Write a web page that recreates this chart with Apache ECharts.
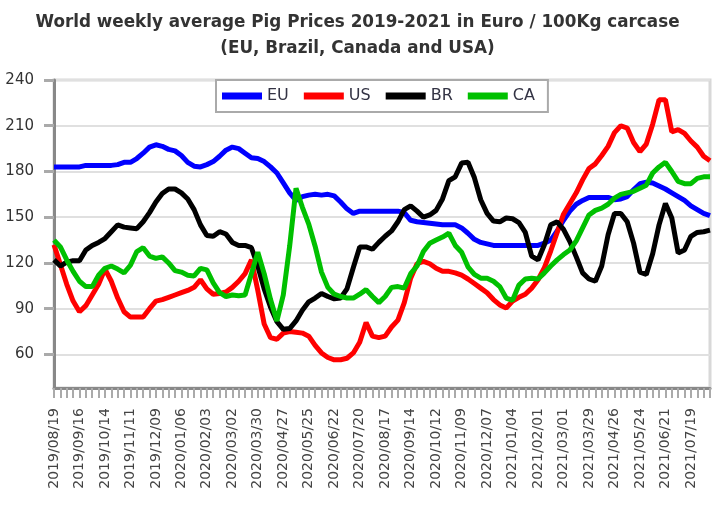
<!DOCTYPE html>
<html>
<head>
<meta charset="utf-8">
<title>World weekly average Pig Prices 2019-2021</title>
<script src="https://cdn.jsdelivr.net/npm/echarts@6/dist/echarts.min.js"></script>
<style>
html, body { margin: 0; padding: 0; background: #fff; }
#main { width: 715px; height: 505px; }
</style>
</head>
<body>
<div id="main"></div>
<script>
// weekly categories, first week and number of weeks
var firstWeek = [2019, 8, 19];
var weekCount = 104;
// y axis labels
var yTicks = [60, 90, 120, 150, 180, 210, 240];

// Euro / 100kg carcase
var euData = [183, 183, 183, 183, 183, 184, 184, 184, 184, 184,
	184.5, 186, 186, 188.5, 192, 196, 197.5, 196.5, 194.5, 193.5,
	190.5, 186, 183.5, 183, 184.5, 186.5, 190, 194, 196, 195,
	192, 189, 188.5, 186.5, 183, 179, 172.5, 166, 161, 163.5,
	164.5, 165, 164.5, 165, 164, 160, 155.5, 152.5, 154, 154,
	154, 154, 154, 154, 154, 153, 148, 147, 146.5, 146,
	145.5, 145, 145, 145, 143, 139.5, 135.5, 133.5, 132.5, 131.5,
	131.5, 131.5, 131.5, 131.5, 131.5, 131.5, 131.5, 133, 135, 141,
	148, 154, 158.5, 161, 163, 163, 163, 163, 161.5, 162,
	163.5, 168, 172, 173, 172.5, 170.5, 168.5, 166, 163.5, 161,
	157.5, 155, 152.5, 151];
var usData = [132, 119, 106, 95, 88, 92, 99, 106, 116, 108,
	97, 88, 84.5, 84.5, 84.5, 90, 95, 96, 97.5, 99,
	100.5, 102, 104, 109, 103, 99.5, 100, 101, 104, 108,
	113, 122, 102, 80, 71, 70, 74, 75, 74.5, 74,
	72, 66, 61, 58, 56.5, 56.5, 57.5, 61, 68, 81,
	72, 71, 72, 78, 82.5, 94, 110, 119.5, 121, 119.5,
	116.5, 114.5, 114.5, 113.5, 112, 109.5, 106.5, 103.5, 100.5, 96,
	92.5, 90.5, 95, 97.5, 99.5, 103.5, 109, 117, 128, 140,
	152, 159, 166, 174.5, 182, 185, 190.5, 196.5, 205.5, 210,
	208.5, 199, 193, 198, 211, 227, 227, 206, 207.5, 205,
	200, 196, 190, 187];
var brData = [122, 118, 120.5, 121.5, 121.5, 128.5, 131.5, 133.5, 136, 140.5,
	145, 143.5, 143, 142.5, 147, 153, 160, 165.5, 168.5, 168.5,
	166, 162, 155, 145, 138, 137.5, 140.5, 139, 133.5, 131.5,
	131.5, 130, 118, 103, 91, 81.5, 76.5, 77, 82, 89,
	94.5, 97, 100, 98, 96.5, 97, 103, 117, 130.5, 130.5,
	129, 133.5, 137.5, 141, 147, 155, 157.5, 154, 150, 151.5,
	154.5, 162, 174, 176.5, 185.5, 186, 176, 161.5, 152.5, 147.5,
	147, 149.5, 149, 146.5, 140, 124.5, 122, 132, 145, 147,
	142, 134, 124, 113.5, 109.5, 108, 118, 138.5, 152.5, 152.5,
	147, 133, 114, 112.5, 126, 145, 159, 149.5, 126.5, 128.5,
	137.5, 140, 140.5, 141.5];
var caData = [135, 130.5, 122, 114.5, 108, 104.5, 104.5, 112, 116.5, 118,
	116, 113.5, 118.5, 127.5, 130, 124.5, 123, 124, 120, 115,
	114, 112, 111.5, 116.5, 115.5, 107, 100.5, 98, 99, 98.5,
	99, 113, 127, 113, 96, 82, 99, 131, 169, 156.5,
	145.5, 131, 114, 104, 99.5, 98, 97, 97, 99.5, 102.5,
	98, 94, 98, 104, 104.5, 103.5, 113, 118, 127.5, 133,
	135, 137, 139.5, 131.5, 127, 117.5, 112.5, 110, 110, 108,
	104.5, 97, 95.5, 105.5, 109.5, 110, 109.5, 113.5, 118, 122,
	125.5, 128.5, 134.5, 143, 151.5, 154.5, 156, 158.5, 162.5, 165,
	166, 167, 169, 171, 179, 183, 186, 180, 173.5, 172,
	172, 175.5, 176.5, 176.5];

var seriesNames = ['EU', 'US', 'BR', 'CA'];
var seriesColors = ['#0000ff', '#ff0000', '#000000', '#00c000'];

// build the yyyy/mm/dd labels, one per week
var pad = function(n) {
	return n < 10 ? '0' + n : '' + n;
};
var weeks = [];
var d = new Date(Date.UTC(firstWeek[0], firstWeek[1] - 1, firstWeek[2]));
for (var i = 0; i < weekCount; i++) {
	weeks.push(d.getUTCFullYear() + '/' + pad(d.getUTCMonth() + 1) + '/' + pad(d.getUTCDate()));
	d = new Date(d.getTime() + 7 * 24 * 3600 * 1000);
}

var myChart = echarts.init(document.getElementById('main'));
var allData = [euData, usData, brData, caData];
var series = [];
for (var s = 0; s < seriesNames.length; s++) {
	series.push({
		name: seriesNames[s],
		type: 'line',
		data: allData[s],
		symbol: 'none',
		lineStyle: { color: seriesColors[s], width: 5 },
		itemStyle: { color: seriesColors[s] }
	});
}

var option = {
	animation: false,
	title: {
		text: 'World weekly average Pig Prices 2019-2021 in Euro / 100Kg carcase\n(EU, Brazil, Canada and USA)',
		left: 'center',
		top: 5,
		textStyle: {
			fontFamily: 'DejaVu Sans',
			fontWeight: 'bold',
			fontSize: 16.8,
			lineHeight: 26,
			color: '#333'
		}
	},
	legend: {
		data: seriesNames.map(function(n) { return { name: n, icon: 'rect' }; }),
		left: 216,
		top: 80,
		itemWidth: 40,
		itemHeight: 7,
		itemGap: 15,
		padding: [8, 13, 8, 6],
		backgroundColor: '#fff',
		borderColor: '#aaa',
		borderWidth: 2,
		textStyle: { fontFamily: 'DejaVu Sans', fontSize: 16, color: '#333344' }
	},
	grid: {
		left: 54,
		right: 5,
		top: 80,
		bottom: 117,
		show: true,
		borderColor: '#d8d8d8',
		borderWidth: 3
	},
	xAxis: {
		type: 'category',
		data: weeks,
		boundaryGap: false,
		axisLine: { lineStyle: { color: '#888', width: 3 } },
		axisTick: { interval: 0, length: 10, lineStyle: { color: '#aaa', width: 2 } },
		axisLabel: {
			interval: 3,
			rotate: 90,
			margin: 20,
			fontFamily: 'DejaVu Sans',
			fontSize: 14,
			color: '#444'
		},
		splitLine: { show: false }
	},
	yAxis: {
		type: 'value',
		min: 38,
		max: 240,
		axisLine: { show: true, lineStyle: { color: '#888', width: 3 } },
		axisTick: { show: true, length: 10, customValues: yTicks, lineStyle: { color: '#aaa', width: 3 } },
		axisLabel: {
			customValues: yTicks,
			margin: 20,
			fontFamily: 'DejaVu Sans',
			fontSize: 15,
			color: '#333'
		},
		splitLine: { lineStyle: { color: '#e0e0e0', width: 2 } }
	},
	series: series
};

myChart.setOption(option);
</script>
</body>
</html>
